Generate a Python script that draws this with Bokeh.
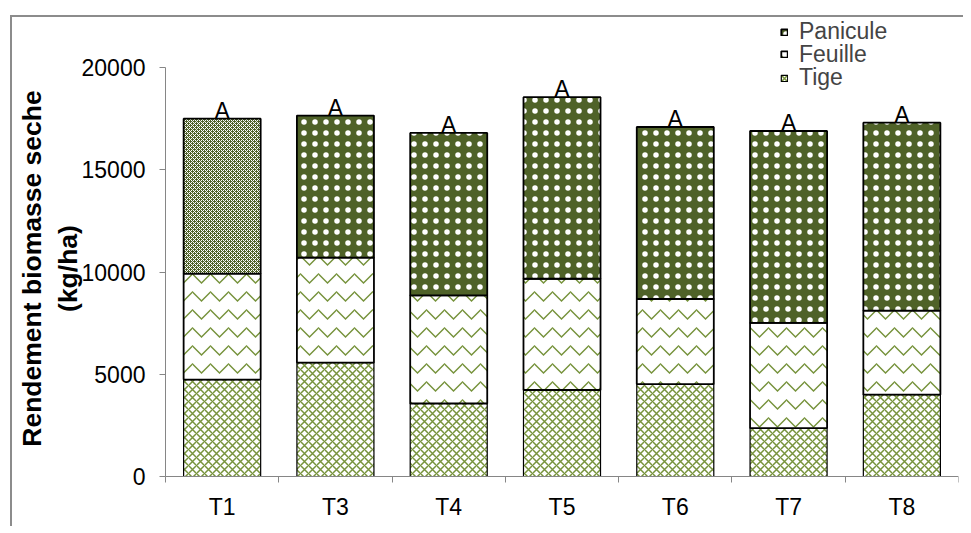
import math
from bokeh.plotting import figure
from bokeh.models import ColumnDataSource, FixedTicker, Legend, LegendItem, Label
from bokeh.embed import file_html
from bokeh.resources import INLINE
from bokeh.core.properties import value

categories = ["T1", "T3", "T4", "T5", "T6", "T7", "T8"]
tige = [4740, 5570, 3570, 4230, 4520, 2370, 4000]
feuille = [5180, 5130, 5290, 5440, 4160, 5140, 4110]
panicule = [7580, 6950, 7940, 8880, 8410, 9385, 9190]
letters = ["A", "A", "A", "A", "A", "A", "A"]
series_names = ["Panicule", "Feuille", "Tige"]
y_ticks = [0, 5000, 10000, 15000, 20000]
y_max = 20000
y_title = "Rendement biomasse seche\n(kg/ha)"

FONT = "Liberation Sans"
DARK = "#4f6228"
MID = "#77933c"
AXIS = "#868686"

n = len(categories)
xs = [i + 0.5 for i in range(n)]
t1 = tige
t2 = [a + b for a, b in zip(tige, feuille)]
t3 = [a + b for a, b in zip(t2, panicule)]

src = ColumnDataSource(dict(
    x=xs, b1=[0] * n, t1=t1, t2=t2, t3=t3,
    pfill=[DARK] * n,
    phatch=["diagonal_cross"] + ["dot"] * (n - 1),
    pscale=[4] + [11] * (n - 1),
    pweight=[1] + [3] * (n - 1),
))

# layout (pixels): the axes' plot area is 793 x 409 px; around it 153 px on the
# left for labels/title, 50 px above for the legend, 50 px below for x labels
AX_W, AX_H, LEFT, TOP, BOT = 793, 409, 153, 50, 50
ppu = AX_W / n
ppv = AX_H / y_max
p = figure(x_range=(-LEFT / ppu, n), y_range=(-BOT / ppv, (AX_H + TOP) / ppv),
           frame_width=AX_W + LEFT, frame_height=AX_H + TOP + BOT,
           min_border_left=0, min_border_top=0, min_border_right=5, min_border_bottom=0,
           output_backend="svg", toolbar_location=None)
p.margin = (15, 0, 0, 10)
p.styles = {"border-left": "2px solid #8c8c8c", "border-top": "2px solid #8c8c8c"}
p.outline_line_color = None
p.xgrid.visible = False
p.ygrid.visible = False
p.background_fill_color = "white"
p.border_fill_color = "white"

W = 0.68
r_tige = p.vbar(x="x", bottom="b1", top="t1", width=W, source=src,
                fill_color="white", hatch_pattern="diagonal_cross", hatch_color=MID,
                hatch_scale=8, hatch_weight=1.5, line_color="black", line_width=1.2)
r_feuille = p.vbar(x="x", bottom="t1", top="t2", width=W, source=src,
                   fill_color="white", hatch_pattern="horizontal_wave", hatch_color=MID,
                   hatch_scale=18, hatch_weight=1.5, line_color="black", line_width=1.8)
r_pan = p.vbar(x="x", bottom="t2", top="t3", width=W, source=src,
               fill_color="pfill", hatch_pattern="phatch", hatch_color="white",
               hatch_scale="pscale", hatch_weight="pweight", line_color="black", line_width=1.8)

p.text(x=xs, y=t3, text=letters, text_align="center", text_baseline="bottom",
       y_offset=5, text_font=value(FONT), text_font_size="23px", text_color="black")

# axes
p.yaxis.fixed_location = 0
p.yaxis.ticker = FixedTicker(ticks=y_ticks)
p.yaxis.bounds = (0, y_max)
p.yaxis.axis_line_color = AXIS
p.yaxis.major_tick_line_color = AXIS
p.yaxis.major_tick_out = 6
p.yaxis.major_tick_in = 0
p.yaxis.minor_tick_out = 0
p.yaxis.minor_tick_in = 0
p.yaxis.major_label_text_font = FONT
p.yaxis.major_label_text_font_size = "23px"
p.yaxis.major_label_text_color = "black"
p.yaxis.major_label_standoff = 14

p.xaxis.fixed_location = 0
p.xaxis.ticker = FixedTicker(ticks=xs, minor_ticks=list(range(n + 1)))
p.xaxis.bounds = (0, n)
p.xaxis.major_label_overrides = {x: c for x, c in zip(xs, categories)}
p.xaxis.axis_line_color = AXIS
p.xaxis.major_tick_out = 0
p.xaxis.major_tick_in = 0
p.xaxis.minor_tick_line_color = AXIS
p.xaxis.minor_tick_out = 6
p.xaxis.minor_tick_in = 0
p.xaxis.major_label_text_font = FONT
p.xaxis.major_label_text_font_size = "23px"
p.xaxis.major_label_text_color = "black"
p.xaxis.major_label_standoff = 11

p.add_layout(Label(x=-116 / ppu, y=208 / ppv, text=y_title, angle=math.pi / 2,
                   text_align="center", text_baseline="middle",
                   text_font=FONT, text_font_style="bold", text_font_size="26.5px",
                   text_color="black"))

# one legend per entry, so each row sits where the reference puts it
rows = [(series_names[0], r_pan, 1, 31.7), (series_names[1], r_feuille, 0, 54.0),
        (series_names[2], r_tige, 0, 77.7)]
frame_bottom_page = 476 + BOT
for name, rend, idx, cy in rows:
    lg = Legend(items=[LegendItem(label=name, renderers=[rend], index=idx)],
                location=(LEFT + 615, frame_bottom_page - cy - 13.5))
    lg.label_text_font = FONT
    lg.label_text_font_size = "23px"
    lg.glyph_width = 8
    lg.glyph_height = 8
    lg.label_height = 21
    lg.spacing = 0
    lg.padding = 0
    lg.margin = 0
    lg.label_standoff = 11
    lg.border_line_color = None
    lg.background_fill_alpha = 0
    p.add_layout(lg)

open("out.html", "w").write(file_html(p, INLINE))
